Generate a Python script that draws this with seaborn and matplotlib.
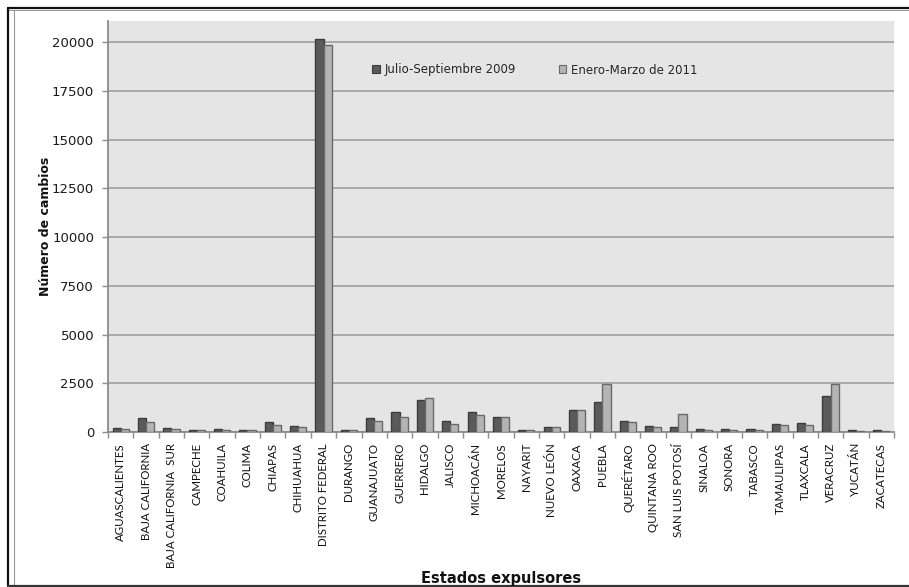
import numpy as np
import pandas as pd
import matplotlib
matplotlib.use("Agg")
import matplotlib.pyplot as plt
from matplotlib.lines import Line2D
from matplotlib.patches import Patch
import seaborn as sns

estados = [
    "AGUASCALIENTES", "BAJA CALIFORNIA", "BAJA CALIFORNIA  SUR", "CAMPECHE",
    "COAHUILA", "COLIMA", "CHIAPAS", "CHIHUAHUA", "DISTRITO FEDERAL", "DURANGO",
    "GUANAJUATO", "GUERRERO", "HIDALGO", "JALISCO", "MICHOACÁN", "MORELOS",
    "NAYARIT", "NUEVO LEÓN", "OAXACA", "PUEBLA", "QUERÉTARO", "QUINTANA ROO",
    "SAN LUIS POTOSÍ", "SINALOA", "SONORA", "TABASCO", "TAMAULIPAS", "TLAXCALA",
    "VERACRUZ", "YUCATÁN", "ZACATECAS",
]
julio_sep_2009 = [
    220, 735, 220, 85, 170, 85, 530, 325, 20150, 85,
    735, 1025, 1660, 580, 1025, 785, 85, 275, 1145, 1555,
    580, 325, 275, 170, 170, 170, 395, 445, 1865, 120, 120,
]
ene_mar_2011 = [
    140, 500, 170, 85, 120, 80, 375, 275, 19870, 85,
    580, 785, 1745, 425, 890, 785, 85, 275, 1145, 2470,
    530, 275, 905, 120, 120, 120, 345, 345, 2470, 70, 50,
]
series = ["Julio-Septiembre 2009", "Enero-Marzo de 2011"]
yticks = [0, 2500, 5000, 7500, 10000, 12500, 15000, 17500, 20000]

df = pd.DataFrame({
    "estado": estados * 2,
    "periodo": [series[0]] * len(estados) + [series[1]] * len(estados),
    "cambios": julio_sep_2009 + ene_mar_2011,
})

colors = {series[0]: "#5a5a5a", series[1]: "#b4b4b4"}
edges = {series[0]: "#3c3c3c", series[1]: "#6a6a6a"}

sns.set_theme(style="white")
plt.rcParams["font.family"] = ["Lato", "DejaVu Sans"]

fig = plt.figure(figsize=(9.09, 5.87), dpi=100)
ax = fig.add_axes([108 / 909, 1 - 432 / 587, (894 - 108) / 909, (432 - 21) / 587])
ax.set_facecolor("#e5e5e5")

sns.barplot(data=df, x="estado", y="cambios", hue="periodo", palette=colors,
            width=0.64, gap=0, ax=ax, legend=False, zorder=3, saturation=1)

for bar_container, s in zip(ax.containers, series):
    for b in bar_container:
        b.set_edgecolor(edges[s])
        b.set_linewidth(1.0)

ax.set_ylim(0, 21080)
ax.set_xlim(-0.5, len(estados) - 0.5)
ax.set_yticks(yticks)
ax.set_yticklabels([str(v) for v in yticks], fontsize=9.5, family=["DejaVu Sans"])
ax.yaxis.grid(True, color="#a4a4a4", linewidth=1.3, zorder=1)
ax.set_axisbelow(True)

ax.tick_params(axis="y", which="major", length=4, width=1, color="#8c8c8c",
               pad=6, left=True, labelcolor="#1a1a1a")
ax.tick_params(axis="x", which="major", length=0, pad=8, labelrotation=90,
               labelsize=8.3, labelcolor="#111111")
ax.set_xticks(np.arange(len(estados) + 1) - 0.5, minor=True)
ax.tick_params(axis="x", which="minor", length=4, width=1, color="#8c8c8c",
               bottom=True)

for side in ["top", "right"]:
    ax.spines[side].set_visible(False)
for side in ["left", "bottom"]:
    ax.spines[side].set_color("#8c8c8c")
    ax.spines[side].set_linewidth(1.3)

ax.set_ylabel("Número de cambios", fontsize=9, fontweight="bold",
              family=["DejaVu Sans"], color="#111111")
ax.yaxis.set_label_coords(-0.071, 0.5)
ax.set_xlabel("")
fig.text(501 / 909, 1 - 578 / 587, "Estados expulsores", ha="center", va="center",
         fontsize=10.5, fontweight="bold", family=["DejaVu Sans"], color="#111111")

handles = [Patch(facecolor=colors[s], edgecolor=edges[s], linewidth=0.8) for s in series]
fig.legend(handles, series, loc="center", bbox_to_anchor=(535 / 909, 1 - 70 / 587),
           ncol=2, frameon=False, handlelength=0.65, handleheight=0.65,
           handletextpad=0.4, columnspacing=3.6, prop={"family": ["DejaVu Sans"], "size": 8.5})

# outer frame of the chart
fig.add_artist(Line2D([8 / 909, 1], [1 - 8 / 587] * 2, transform=fig.transFigure,
                      color="#111111", linewidth=1.6))
fig.add_artist(Line2D([8 / 909, 1], [1 - 10 / 587] * 2, transform=fig.transFigure,
                      color="#999999", linewidth=0.7))
fig.add_artist(Line2D([8 / 909] * 2, [1 - 8 / 587, 1 - 586 / 587], transform=fig.transFigure,
                      color="#111111", linewidth=1.6))
fig.add_artist(Line2D([14 / 909] * 2, [1 - 10 / 587, 1 - 586 / 587], transform=fig.transFigure,
                      color="#999999", linewidth=0.8))
fig.add_artist(Line2D([8 / 909, 1], [1 - 586 / 587] * 2, transform=fig.transFigure,
                      color="#333333", linewidth=1.6))

fig.savefig("out.png", dpi=100, facecolor="white")
